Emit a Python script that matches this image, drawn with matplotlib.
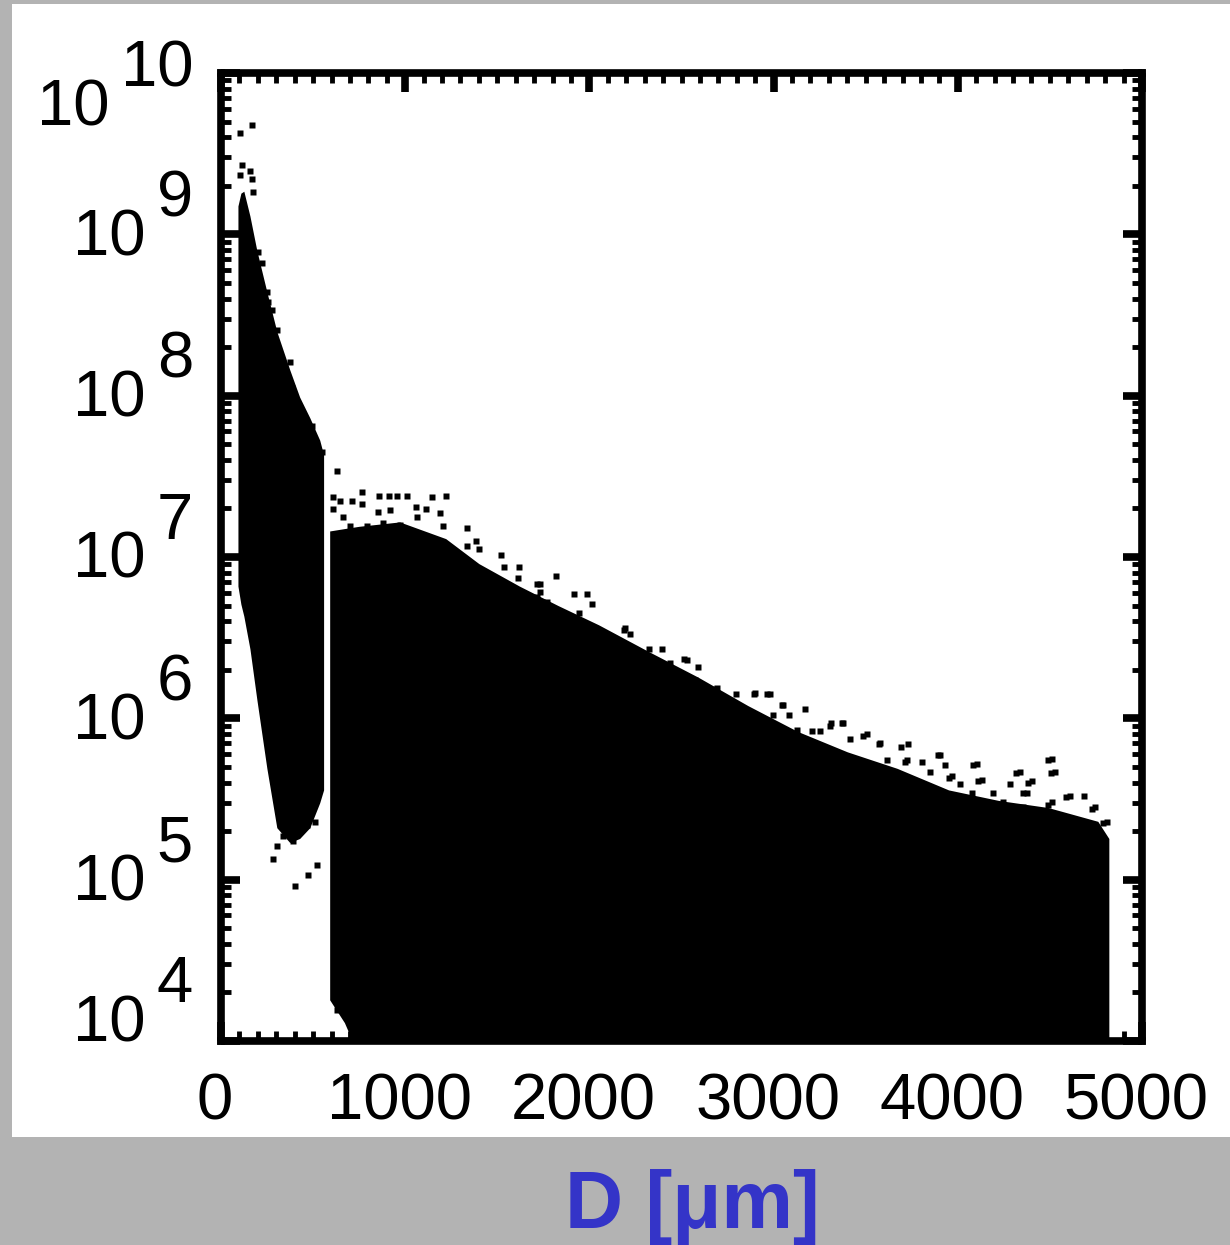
import numpy as np
import matplotlib
matplotlib.use('Agg')
import matplotlib.pyplot as plt
from matplotlib.patches import Rectangle
from matplotlib.transforms import IdentityTransform, ScaledTranslation
from matplotlib.ticker import MultipleLocator, LogLocator, NullFormatter

plt.rcParams['font.family'] = ['Liberation Sans', 'DejaVu Sans']

# %% data (envelopes of the two dense clouds)
# small-particle mode
d_small = np.array([92, 108, 124, 157, 195, 249, 303, 373, 427, 482, 536, 557])
n_small_top = np.array([1.5e9, 1.8e9, 1.85e9, 1.3e9, 7.9e8, 4.4e8, 2.5e8, 1.45e8,
                        9.8e7, 7.3e7, 5.3e7, 4.3e7])
n_small_bot = np.array([6.6e6, 5.1e6, 4.3e6, 2.7e6, 1.3e6, 4.9e5, 2.1e5, 1.7e5,
                        1.8e5, 2.1e5, 3.0e5, 3.6e5])

# large-particle mode
d_large = np.array([590, 670, 750, 970, 1220, 1400, 1620, 1830, 2050, 2320, 2590,
                    2860, 3130, 3400, 3670, 3950, 4220, 4490, 4760, 4820])
n_large_top = np.array([1.45e7, 1.5e7, 1.55e7, 1.65e7, 1.3e7, 9.1e6, 6.6e6, 5.0e6,
                        3.8e6, 2.6e6, 1.8e6, 1.2e6, 8.3e5, 6.2e5, 4.9e5, 3.6e5,
                        3.1e5, 2.8e5, 2.3e5, 1.8e5])
n_large_bot = np.array([1.8e4, 1.3e4, 8e3, 8e3, 8e3, 8e3, 8e3, 8e3, 8e3, 8e3, 8e3,
                        8e3, 8e3, 8e3, 8e3, 8e3, 8e3, 8e3, 8e3, 8e3])

# isolated points outside the dense clouds (D in um, log10 of N)
d_out = np.array([
    168, 103, 114, 157, 168, 103, 173, 222, 249, 276, 303, 373, 628,
    201, 255, 385, 494, 548,
    763, 860, 914, 958, 1012, 1223, 1147, 606, 644, 709, 768, 1115,
    1061, 850, 660, 608, 700, 793, 880, 972, 1064, 1189, 1205, 917,
    1337, 1385, 1337, 1401, 1520, 1537, 1618, 1818, 1715, 1915, 1986, 2013,
    1943, 2186, 2121, 2321, 2392, 2511, 2592, 2576, 2689, 2797,
    1612, 1531, 1732, 1732, 1716, 1770, 1851, 1911, 2058, 2128, 2193, 2220,
    2530, 2438, 2275, 2693, 2899, 2763, 2655,
    2895, 2965, 3046, 3171, 3084, 3371, 3311, 3485, 3571, 3690, 3728, 3891,
    4085, 4318, 4491, 4507, 4383, 4286, 4356, 4589, 4686, 4729, 4789, 4491,
    4578, 3950, 4107, 3712,
    2981, 3051, 2926, 2997, 3062, 3127, 3209, 3252, 3306, 3377, 3415, 3507,
    3578, 3616, 3724, 3806, 3903, 3931, 3849, 3969, 4012, 4077, 4104, 4131,
    4338, 4403, 4376, 4511, 4528, 4511, 4609, 4745, 4810, 4191, 4246, 4354,
    4446, 4609, 4680,
    519, 471, 400, 281, 303, 335, 390, 427, 465, 509,
    611, 628, 644, 698, 752, 671, 714, 741])
log_n_out = np.array([
    9.68, 9.63, 9.43, 9.39, 9.34, 9.37, 9.26, 8.82, 8.64, 8.53, 8.41, 8.21, 7.53,
    8.89, 8.58, 8.05, 7.81, 7.65,
    7.40, 7.38, 7.38, 7.38, 7.38, 7.38, 7.37, 7.37, 7.35, 7.35, 7.33, 7.30,
    7.31, 7.28, 7.25, 7.30, 7.19, 7.19, 7.21, 7.20, 7.25, 7.27, 7.19, 7.29,
    7.18, 7.10, 7.07, 7.05, 7.01, 6.94, 6.94, 6.88, 6.83, 6.77, 6.77, 6.71,
    6.65, 6.55, 6.50, 6.43, 6.43, 6.37, 6.32, 6.24, 6.18, 6.15,
    6.87, 6.84, 6.83, 6.78, 6.75, 6.72, 6.60, 6.58, 6.53, 6.50, 6.56, 6.52,
    6.36, 6.34, 6.38, 6.19, 6.16, 6.11, 6.16,
    6.15, 6.15, 6.08, 6.06, 6.02, 5.97, 5.97, 5.89, 5.84, 5.82, 5.84, 5.77,
    5.71, 5.66, 5.74, 5.66, 5.60, 5.59, 5.54, 5.51, 5.52, 5.44, 5.35, 5.46,
    5.37, 5.63, 5.61, 5.73,
    6.15, 6.08, 6.00, 6.02, 5.93, 5.93, 5.92, 5.92, 5.95, 5.97, 5.87, 5.90,
    5.85, 5.74, 5.74, 5.73, 5.77, 5.71, 5.67, 5.64, 5.59, 5.54, 5.72, 5.62,
    5.67, 5.61, 5.54, 5.75, 5.67, 5.48, 5.52, 5.45, 5.36, 5.54, 5.48, 5.45,
    5.41, 5.36, 5.31,
    5.09, 5.03, 4.96, 5.13, 5.21, 5.27, 5.24, 5.30, 5.34, 5.36,
    4.28, 4.19, 4.34, 4.20, 4.07, 4.25, 4.16, 4.06])

y_exponents = [4, 5, 6, 7, 8, 9, 10]

# %% figure
W, H = 1230, 1245
fig = plt.figure(figsize=(W / 100, H / 100), dpi=100, facecolor='#b3b3b3')
fig.add_artist(Rectangle((12 / W, (H - 1137) / H), (W - 12) / W, (1137 - 4) / H,
                         transform=fig.transFigure, facecolor='white',
                         edgecolor='none', zorder=-10))

ax = fig.add_axes([221 / W, (H - 1041) / H, (1142 - 221) / W, (1041 - 73) / H])
ax.set_yscale('log')

ax.fill_between(d_small, n_small_bot, n_small_top, color='k', lw=0)
ax.fill_between(d_large, n_large_bot, n_large_top, color='k', lw=0)
ax.plot(d_out, 10.0 ** log_n_out, 's', ms=3.9, color='k', mec='none')

ax.set_xlim(0, 5000)
ax.set_ylim(1e4, 1e10)

ax.xaxis.set_major_locator(MultipleLocator(1000))
ax.xaxis.set_minor_locator(MultipleLocator(100))
ax.yaxis.set_major_locator(LogLocator(base=10, numticks=12))
ax.yaxis.set_minor_locator(LogLocator(base=10, subs=np.arange(2, 10), numticks=12))
ax.yaxis.set_major_formatter(NullFormatter())
ax.yaxis.set_minor_formatter(NullFormatter())

ax.tick_params(which='both', direction='in', top=True, right=True, color='k')
ax.tick_params(which='major', length=14, width=5.5)
ax.tick_params(which='minor', length=7, width=3.5)
ax.tick_params(axis='x', labelsize=47, pad=23)
for s in ax.spines.values():
    s.set_linewidth(5.5)

# x labels sit a little left of their ticks in the original
shift = ScaledTranslation(-6 / 100, 0, fig.dpi_scale_trans)
for lab in ax.get_xticklabels():
    lab.set_transform(lab.get_transform() + shift)

# y tick labels: "10" with a full-size raised exponent
renderer = fig.canvas.get_renderer()
for e in y_exponents:
    _, yt = ax.transData.transform((0, 10.0 ** e))
    drop = 21
    if e == 10:
        drop = 53
    if e == 4:
        drop = 0
    ex = fig.text(193, yt - drop + 39, str(e), transform=IdentityTransform(),
                  ha='right', va='baseline', fontsize=47)
    x0 = ex.get_window_extent(renderer).x0
    fig.text(x0 - 11, yt - drop, '10', transform=IdentityTransform(),
             ha='right', va='baseline', fontsize=47)

fig.text(692 / W, 17 / H, 'D [μm]', ha='center', va='baseline', fontsize=58,
         fontweight='bold', color='#3434c8')

fig.savefig('out.png', dpi=100, facecolor=fig.get_facecolor())
